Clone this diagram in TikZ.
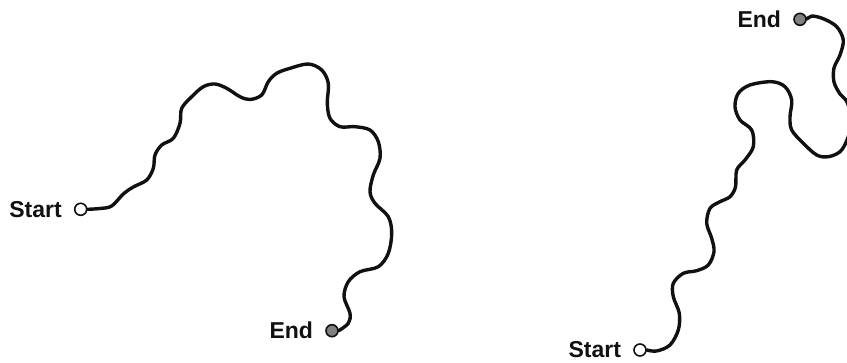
\documentclass[tikz,border=0pt]{standalone}
\usepackage{fontspec}
\setmainfont{Liberation Sans}
\usepackage{xcolor}
\definecolor{cLine}{HTML}{111111}
\definecolor{cEnd}{HTML}{808080}
\usepackage{tikz}
\usetikzlibrary{positioning}
\tikzset{
  node-start/.style={draw=cLine,line width=1.6pt,circle,fill=white,
    minimum size=12pt,inner sep=0pt},
  node-end/.style={node-start,fill=cEnd},
  node-label/.style={inner sep=0pt,text=cLine,
    font=\bfseries\fontsize{23}{27}\selectfont},
  % hand-traced wiggly route, one smooth plot per panel
  wire/.style={draw=cLine,line width=3.4pt,line cap=round,line join=round},
}

\begin{document}
\begin{tikzpicture}[x=1pt,y=-1pt,node distance=12pt]
  \clip (0,0) rectangle (847,362);
  % left panel
  \node[node-start] (startA) at (80.7,209.3) {};
  \node[node-label,left=of startA] (startAtxt) {Start};
  \node[node-end] (endA) at (332,330.7) {};
  \node[node-label,left=of endA] (endAtxt) {End};
  \draw[wire] plot[smooth,tension=0.55] coordinates {(startA.east)
    (100,208.5) (111.7,206) (123.3,194) (133.3,187) (146.7,180)
    (153.3,168.3) (155,155) (161.7,145) (173.3,138.3) (180,123.3)
    (181.7,108.3) (191.7,96.7) (203.3,86.7) (215,84) (226.7,88.3)
    (240,96.7) (250,99.5) (261.7,95) (268.3,81.7) (276.7,73.3)
    (290,68.3) (308.3,64) (321.7,70) (328.3,83.3) (327.3,103.3)
    (330,118.3) (340,126.7) (355,126.7) (370,130) (378.3,141.7)
    (380,158.3) (373.3,175) (370,191.7) (375,203.3) (388.3,216.7)
    (391.7,233.3) (388.3,253.3) (378.3,266.7) (360,271.7)
    (348.3,281.7) (344,296.7) (350,313.3) (348.3,323.3) (endA.east)};
  % right panel
  \node[node-start] (startB) at (640,350) {};
  \node[node-label,left=of startB] (startBtxt) {Start};
  \node[node-end] (endB) at (800,19.3) {};
  \node[node-label,left=of endB] (endBtxt) {End};
  \draw[wire] plot[smooth,tension=0.55] coordinates {(startB.east)
    (656.7,351) (670,345) (678.3,330) (679.3,313.3) (673.3,296.7)
    (673.3,283.3) (683.3,273.3) (696.7,270.7) (708.3,265) (714,251.7)
    (711.7,238.3) (706.7,223.3) (710,208.3) (720,201.7) (730,196.7)
    (735.5,187) (736.7,170) (745,160) (753.3,146.7) (751.7,130)
    (740,120) (735,106.7) (738.3,93.3) (750,85) (771.7,81.7)
    (785,86.7) (791.7,100) (790,116.7) (791.7,130) (803.3,143.3)
    (816.7,155) (828.3,156.7) (840,151.7) (847,140) (852,121)
    (847,102) (840,94) (834,82) (834,68) (840,55) (843.3,40)
    (836.7,26.7) (824,19) (812,16) (endB.east)};
\end{tikzpicture}
\end{document}
